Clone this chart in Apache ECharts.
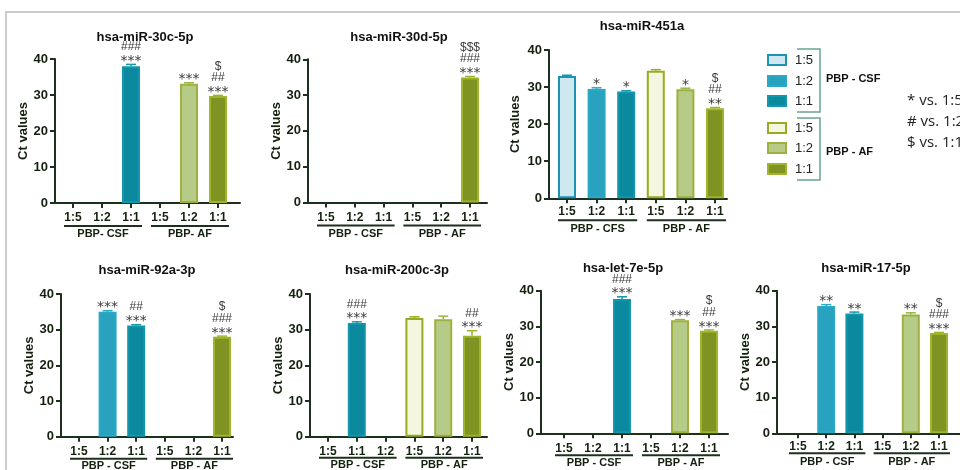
<!DOCTYPE html>
<html>
<head>
<meta charset="utf-8">
<script src="https://cdn.jsdelivr.net/npm/echarts@6/dist/echarts.min.js"></script>
<style>
html,body{margin:0;padding:0;background:#fff;}
#chart{width:960px;height:470px;}
</style>
</head>
<body>
<div id="chart"></div>
<script>
// ---- data ----
const panelTitles = ['hsa-miR-30c-5p', 'hsa-miR-30d-5p', 'hsa-miR-451a', 'hsa-miR-92a-3p', 'hsa-miR-200c-3p', 'hsa-let-7e-5p', 'hsa-miR-17-5p'];
const ratioLabels = ['1:5', '1:2', '1:1', '1:5', '1:2', '1:1'];
const ratioLabels200c = ['1:5', '1:1', '1:2', '1:5', '1:2', '1:1'];
const groupLabelsA = ['PBP- CSF', 'PBP- AF'];
const groupLabelsB = ['PBP - CSF', 'PBP - AF'];
const groupLabelsC = ['PBP - CFS', 'PBP - AF'];

// Ct values (mean) per condition; null = not detected
const ct30c   = [null, null, 38.0, null, 33.1, 29.7];
const ct30d   = [null, null, null, null, null, 34.9];
const ct451a  = [33.0, 29.5, 28.8, 34.4, 29.4, 24.3];
const ct92a   = [null, 35.0, 31.2, null, null, 28.0];
const ct200c  = [null, 31.9, null, 33.3, 32.9, 28.3];
const ctLet7e = [null, null, 37.7, null, 31.7, 28.8];
const ct17    = [null, 35.7, 33.6, null, 33.3, 28.1];

// error (SEM)
const err30c   = [0, 0, 0.5, 0, 0.3, 0.2];
const err30d   = [0, 0, 0, 0, 0, 0.3];
const err451a  = [0.2, 0.3, 0.2, 0.3, 0.3, 0.2];
const err92a   = [0, 0.3, 0.2, 0, 0, 0.2];
const err200c  = [0, 0.3, 0, 0.3, 0.9, 1.4];
const errLet7e = [0, 0, 0.6, 0, 0.2, 0.2];
const err17    = [0, 0.4, 0.4, 0, 0.5, 0.2];

// significance marks (top line first)
const sig30c   = ['', '', '###\n***', '', '***', '$\n##\n***'];
const sig30d   = ['', '', '', '', '', '$$$\n###\n***'];
const sig451a  = ['', '*', '*', '', '*', '$\n##\n**'];
const sig92a   = ['', '***', '##\n***', '', '', '$\n###\n***'];
const sig200c  = ['', '###\n***', '', '', '', '##\n***'];
const sigLet7e = ['', '', '###\n***', '', '***', '$\n##\n***'];
const sig17    = ['', '**', '**', '', '**', '$\n###\n***'];

const legendRatios = ['1:5', '1:2', '1:1'];
const legendGroups = ['PBP - CSF', 'PBP - AF'];
const keyNotes = ['* vs. 1:5', '# vs. 1:2', '$ vs. 1:1'];

// ---- styling ----
const fillColors = {
  'CSF 1:5': '#cfe7ef', 'CSF 1:2': '#28a2bf', 'CSF 1:1': '#0b8a9f',
  'AF 1:5': '#f4f6df', 'AF 1:2': '#b7cb89', 'AF 1:1': '#7e9322'
};
const edgeColors = {
  'CSF 1:5': '#1b93b3', 'CSF 1:2': '#2aa9c6', 'CSF 1:1': '#1597ab',
  'AF 1:5': '#99ac1f', 'AF 1:2': '#9db23e', 'AF 1:1': '#a0b42c'
};
const AXIS = '#1d301e';
const FONT = '"Liberation Sans", Arial, sans-serif';

const panels = [
  { title: panelTitles[0], cats: ratioLabels,     groups: groupLabelsA, ct: ct30c,   err: err30c,   sig: sig30c },
  { title: panelTitles[1], cats: ratioLabels,     groups: groupLabelsB, ct: ct30d,   err: err30d,   sig: sig30d },
  { title: panelTitles[2], cats: ratioLabels,     groups: groupLabelsC, ct: ct451a,  err: err451a,  sig: sig451a },
  { title: panelTitles[3], cats: ratioLabels,     groups: groupLabelsB, ct: ct92a,   err: err92a,   sig: sig92a },
  { title: panelTitles[4], cats: ratioLabels200c, groups: groupLabelsB, ct: ct200c,  err: err200c,  sig: sig200c },
  { title: panelTitles[5], cats: ratioLabels,     groups: groupLabelsB, ct: ctLet7e, err: errLet7e, sig: sigLet7e },
  { title: panelTitles[6], cats: ratioLabels,     groups: groupLabelsB, ct: ct17,    err: err17,    sig: sig17 }
];

// panel geometry in pixels
const layout = [
  { axisX: 55,  axisEnd: 240, y0: 203,   y40: 59,    c0: 73,  c5: 218, tx: 145, ty: 37,  nameGap: 24.5, lm: 9, gl: 23, gt: 31 },
  { axisX: 308, axisEnd: 487, y0: 202.5, y40: 59.3,  c0: 326, c5: 470, tx: 399, ty: 37,  nameGap: 25.5, lm: 9, gl: 23, gt: 31 },
  { axisX: 549, axisEnd: 727, y0: 198.3, y40: 50,    c0: 567, c5: 715, tx: 642, ty: 26,  nameGap: 27.5, lm: 7, gl: 22, gt: 31 },
  { axisX: 61,  axisEnd: 233, y0: 436.7, y40: 294,   c0: 79,  c5: 222, tx: 147, ty: 270, nameGap: 24.5, lm: 9, gl: 22, gt: 29 },
  { axisX: 310, axisEnd: 487, y0: 436.7, y40: 294,   c0: 328, c5: 472, tx: 397, ty: 270, nameGap: 25.5, lm: 9, gl: 21, gt: 28 },
  { axisX: 541, axisEnd: 728, y0: 433.3, y40: 290.7, c0: 564, c5: 709, tx: 623, ty: 268, nameGap: 14.5, lm: 9, gl: 22, gt: 30 },
  { axisX: 777, axisEnd: 960, y0: 433.3, y40: 290.7, c0: 798, c5: 939, tx: 866, ty: 268, nameGap: 23.5, lm: 7, gl: 20, gt: 29 }
];

function colorKey(panel, i) {
  return (i < 3 ? 'CSF ' : 'AF ') + panel.cats[i];
}

const grid = [], xAxis = [], yAxis = [], series = [];
const graphics = [];

// outer frame
graphics.push({
  type: 'rect', z: -1, silent: true,
  shape: { x: 6, y: 12, width: 1000, height: 500 },
  style: { fill: 'none', stroke: '#cccccc', lineWidth: 2 }
});

panels.forEach((p, k) => {
  const L = layout[k];
  const band = (L.c5 - L.c0) / 5;
  const h = L.y0 - L.y40;
  const outer = 2 * k, inner = 2 * k + 1;

  grid.push({ left: L.axisX, top: L.y40, width: L.axisEnd - L.axisX, height: h });
  grid.push({ left: L.c0 - band / 2, top: L.y40, width: band * 6, height: h });

  // frame axes
  xAxis.push({
    type: 'value', gridIndex: outer, min: 0, max: 1,
    axisLine: { show: true, lineStyle: { color: AXIS, width: 2 } },
    axisTick: { show: false }, axisLabel: { show: false }, splitLine: { show: false }
  });
  yAxis.push({
    type: 'value', gridIndex: outer, min: 0, max: 40, interval: 10,
    axisLine: { show: true, lineStyle: { color: AXIS, width: 2 } },
    axisTick: { show: true, length: 5, lineStyle: { color: AXIS, width: 2 } },
    axisLabel: { color: '#14210f', fontWeight: 'bold', fontSize: 13, fontFamily: FONT, margin: 7 },
    splitLine: { show: false },
    name: 'Ct values', nameLocation: 'middle', nameGap: L.nameGap,
    nameTextStyle: { color: '#14210f', fontWeight: 'bold', fontSize: 13, fontFamily: FONT }
  });

  // bar axes
  xAxis.push({
    type: 'category', gridIndex: inner, data: p.cats,
    axisLine: { show: false },
    axisTick: { show: true, alignWithLabel: true, length: 5, lineStyle: { color: AXIS, width: 2 } },
    axisLabel: { color: '#14210f', fontWeight: 'bold', fontSize: 12, fontFamily: FONT, margin: L.lm, interval: 0 },
    splitLine: { show: false }
  });
  yAxis.push({ type: 'value', gridIndex: inner, min: 0, max: 40, show: false });

  series.push({
    type: 'bar', xAxisIndex: inner, yAxisIndex: inner,
    barWidth: 18, silent: true, animation: false,
    itemStyle: { borderWidth: 2 },
    data: p.ct.map((v, i) => v == null ? '-' : {
      value: v,
      itemStyle: { color: fillColors[colorKey(p, i)], borderColor: edgeColors[colorKey(p, i)] }
    })
  });

  const pts = [];
  p.ct.forEach((v, i) => { if (v != null) pts.push([i, v, p.err[i]]); });
  series.push({
    type: 'custom', xAxisIndex: inner, yAxisIndex: inner,
    silent: true, animation: false, z: 5,
    data: pts,
    renderItem: (params, api) => {
      const i = api.value(0), v = api.value(1), e = api.value(2);
      const base = api.coord([i, v]);
      const top = api.coord([i, v + e]);
      const col = edgeColors[colorKey(p, i)];
      const children = [];
      if (e > 0) {
        children.push({ type: 'line', shape: { x1: base[0], y1: base[1], x2: top[0], y2: top[1] }, style: { stroke: col, lineWidth: 1.5 } });
        children.push({ type: 'line', shape: { x1: top[0] - 5, y1: top[1], x2: top[0] + 5, y2: top[1] }, style: { stroke: col, lineWidth: 1.5 } });
      }
      const s = p.sig[i];
      if (s) {
        // stacked marks, bottom line nearest the bar
        s.split('\n').reverse().forEach((ln, j) => {
          const star = ln[0] === '*';
          children.push({
            type: 'text', x: top[0], y: top[1] - 6 - 11.5 * j + (star ? 3 : 0),
            style: { text: ln, textAlign: 'center', align: 'center', textVerticalAlign: 'middle', verticalAlign: 'middle',
                     font: star ? '14px "DejaVu Sans", sans-serif' : '12px ' + FONT, fill: '#3b3b3b' }
          });
        });
      }
      return { type: 'group', children };
    }
  });

  graphics.push({
    type: 'text', x: L.tx, y: L.ty, silent: true,
    style: { text: p.title, textAlign: 'center', align: 'center', textVerticalAlign: 'middle', verticalAlign: 'middle',
             font: 'bold 13px ' + FONT, fill: '#111' }
  });
});

// legend (drawn as graphic elements)
const legendRowsY = [60, 81, 101, 128, 148, 169];
legendRowsY.forEach((y, j) => {
  const key = (j < 3 ? 'CSF ' : 'AF ') + legendRatios[j % 3];
  graphics.push({ type: 'rect', silent: true, shape: { x: 768, y: y - 5, width: 18, height: 10 },
                  style: { fill: fillColors[key], stroke: edgeColors[key], lineWidth: 2 } });
  graphics.push({ type: 'text', silent: true, x: 795, y: y,
                  style: { text: legendRatios[j % 3], textVerticalAlign: 'middle', verticalAlign: 'middle', font: '13px ' + FONT, fill: '#222' } });
});
[[49, 112, 79], [118, 180, 152]].forEach((b, g) => {
  graphics.push({ type: 'polyline', silent: true,
                  shape: { points: [[797, b[0]], [820, b[0]], [820, b[1]], [797, b[1]]] },
                  style: { fill: 'none', stroke: '#6aa393', lineWidth: 1.5 } });
  graphics.push({ type: 'text', silent: true, x: 826, y: b[2],
                  style: { text: legendGroups[g], textVerticalAlign: 'middle', verticalAlign: 'middle', font: 'bold 11px ' + FONT, fill: '#111' } });
});
keyNotes.forEach((t, j) => {
  graphics.push({ type: 'text', silent: true, x: 907, y: 101 + j * 21,
                  style: { text: t, textVerticalAlign: 'middle', verticalAlign: 'middle', font: '15px "Open Sans", ' + FONT, fill: '#222' } });
});

const chart = echarts.init(document.getElementById('chart'), null, { renderer: 'canvas' });
chart.setOption({ animation: false, grid, xAxis, yAxis, series, graphic: graphics });

// group underlines and group names, placed from the category scale
panels.forEach((p, k) => {
  const L = layout[k];
  const inner = 2 * k + 1;
  const px = i => chart.convertToPixel({ xAxisIndex: inner }, i);
  [[0, 2], [3, 5]].forEach((rg, g) => {
    const x1 = px(rg[0]) - 9, x2 = px(rg[1]) + 11;
    graphics.push({ type: 'line', silent: true, shape: { x1, y1: L.y0 + L.gl, x2, y2: L.y0 + L.gl },
                    style: { stroke: AXIS, lineWidth: 2 } });
    graphics.push({ type: 'text', silent: true, x: (x1 + x2) / 2, y: L.y0 + L.gt,
                    style: { text: p.groups[g], textAlign: 'center', align: 'center', textVerticalAlign: 'middle', verticalAlign: 'middle',
                             font: 'bold 11px ' + FONT, fill: '#14210f' } });
  });
});
chart.setOption({ graphic: graphics });
</script>
</body>
</html>
